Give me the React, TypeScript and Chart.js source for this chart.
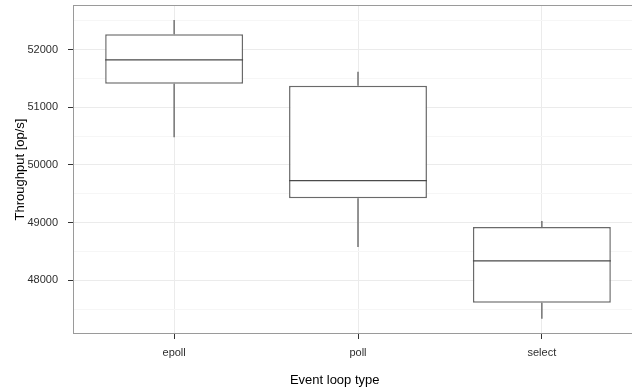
import React, { useEffect, useRef } from 'react';
import { Chart, registerables } from 'chart.js';

Chart.register(...registerables);

// ---- data ----
const categories = ['epoll', 'poll', 'select'];
const whiskerLow = [50478, 48576, 47334];
const q1 = [51409, 49421, 47612];
const median = [51821, 49727, 48336];
const q3 = [52266, 51374, 48923];
const whiskerHigh = [52510, 51617, 49028];
const yMajorTicks = [48000, 49000, 50000, 51000, 52000];
const yMinorTicks = [47500, 48500, 49500, 50500, 51500, 52500];
const xTitle = 'Event loop type';
const yTitle = 'Throughput [op/s]';

// ---- style ----
const FONT = 'Arial, "Liberation Sans", Helvetica, sans-serif';
const BOX_HALF = 0.375;
const LINE = '#6a6a6a';
const TEXT = '#2e2e2e';

export default function App() {
  const ref = useRef<HTMLCanvasElement | null>(null);

  useEffect(() => {
    if (!ref.current) return;
    const pos = categories.map((_, i) => i + 1);

    const boxes = pos.map((x, i) => ({ x, y: [q1[i], q3[i]] }));
    const whiskers: any[] = [];
    pos.forEach((x, i) => {
      whiskers.push({ x, y: q3[i] }, { x, y: whiskerHigh[i] }, { x, y: null });
      whiskers.push({ x, y: whiskerLow[i] }, { x, y: q1[i] }, { x, y: null });
    });
    const medians: any[] = [];
    pos.forEach((x, i) => {
      medians.push({ x: x - BOX_HALF, y: median[i] }, { x: x + BOX_HALF, y: median[i] }, { x, y: null });
    });

    const framePlugin = {
      id: 'frame',
      afterDraw(chart: any) {
        const { ctx, chartArea: a } = chart;
        ctx.save();
        ctx.strokeStyle = '#9a9a9a';
        ctx.lineWidth = 1;
        ctx.strokeRect(Math.round(a.left) + 0.5, Math.round(a.top) + 0.5, Math.round(a.right - a.left) + 5, Math.round(a.bottom - a.top) - 1);
        ctx.fillStyle = '#000000';
        ctx.font = `13px ${FONT}`;
        ctx.textAlign = 'center';
        ctx.textBaseline = 'middle';
        ctx.fillText(xTitle, 334.7, 380);
        ctx.restore();
      },
    };

    const chart = new Chart(ref.current, {
      type: 'bar',
      data: {
        datasets: [
          {
            type: 'line',
            data: medians,
            borderColor: '#4a4a4a',
            borderWidth: 1.3,
            pointRadius: 0,
            spanGaps: false,
            order: 0,
          } as any,
          {
            type: 'bar',
            data: boxes as any,
            backgroundColor: '#ffffff',
            borderColor: LINE,
            borderWidth: 1.5,
            borderSkipped: false,
            barPercentage: 0.75,
            categoryPercentage: 1,
            order: 1,
          } as any,
          {
            type: 'line',
            data: whiskers,
            borderColor: LINE,
            borderWidth: 1.4,
            pointRadius: 0,
            spanGaps: false,
            order: 2,
          } as any,
        ],
      },
      options: {
        responsive: false,
        animation: false,
        devicePixelRatio: 1,
        layout: { padding: { top: 5, left: 0, right: 0, bottom: 0 } },
        plugins: { legend: { display: false }, tooltip: { enabled: false } },
        scales: {
          x: {
            type: 'linear',
            min: 0.45,
            max: 3.55,
            offset: false,
            afterBuildTicks: (s: any) => {
              s.ticks = pos.map((v) => ({ value: v }));
            },
            afterFit: (s: any) => {
              s.height = 56;
              s.paddingLeft = 0;
              s.paddingRight = 0;
            },
            ticks: {
              autoSkip: false,
              maxRotation: 0,
              padding: 7,
              color: TEXT,
              font: { family: FONT, size: 11 },
              callback: (v: any) => categories[Math.round(Number(v)) - 1] ?? '',
            },
            grid: {
              offset: false,
              color: '#ebebeb',
              lineWidth: 1,
              tickColor: '#333333',
              tickLength: 5,
            },
            border: { display: false },
          } as any,
          y: {
            type: 'linear',
            min: 47070,
            max: 52772,
            afterBuildTicks: (s: any) => {
              s.ticks = [...yMinorTicks, ...yMajorTicks].sort((a, b) => a - b).map((v) => ({ value: v }));
            },
            afterFit: (s: any) => {
              s.width = 73;
              s.paddingTop = 0;
              s.paddingBottom = 0;
            },
            ticks: {
              autoSkip: false,
              padding: 10,
              color: TEXT,
              font: { family: FONT, size: 11 },
              callback: (v: any) => (yMajorTicks.includes(Number(v)) ? String(v) : ''),
            },
            grid: {
              color: (c: any) => (yMajorTicks.includes(c.tick?.value) ? '#ebebeb' : '#f6f6f6'),
              lineWidth: 1,
              tickColor: (c: any) => (yMajorTicks.includes(c.tick?.value) ? '#333333' : 'rgba(0,0,0,0)'),
              tickLength: 5,
            },
            border: { display: false },
            title: {
              display: true,
              text: yTitle,
              color: '#000000',
              font: { family: FONT, size: 13 },
              padding: { top: 13, bottom: 0 },
            },
          } as any,
        },
      },
      plugins: [framePlugin],
    });

    return () => chart.destroy();
  }, []);

  return (
    <div style={{ position: 'absolute', left: 0, top: 0, width: 632, height: 390, overflow: 'hidden', background: '#fff' }}>
      <canvas ref={ref} width={643} height={390} style={{ width: 643, height: 390, display: 'block' }} />
    </div>
  );
}
